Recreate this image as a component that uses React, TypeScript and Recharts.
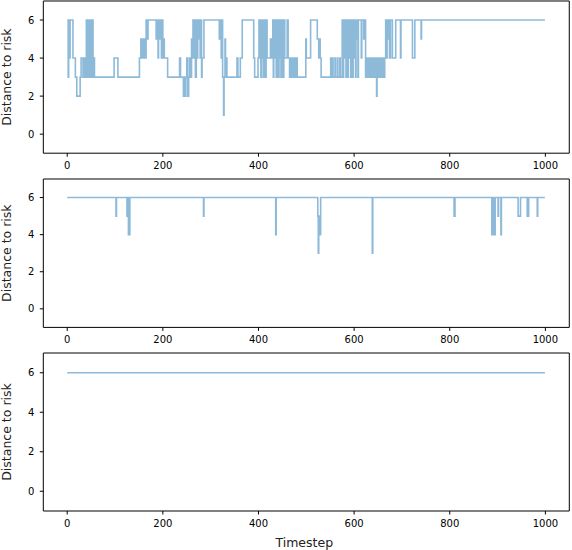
import { LineChart, Line, XAxis, YAxis, ReferenceArea } from 'recharts';

// Timesteps where the value changes, and the value from that step on
const RUN1_STEPS = [
  0, 2, 3, 5, 6, 12, 17, 20, 27, 29, 33, 35, 38,
  40, 41, 42, 43, 44, 45, 46, 47, 48, 49, 50, 51, 52, 53, 54, 55, 57,
  98, 106,
  151, 154, 155, 157, 159, 161, 163, 165, 168, 169, 186, 187, 190, 191, 193, 195, 197, 198, 200, 202, 203, 210,
  235, 237, 243, 245, 246, 248, 250, 252, 254, 256, 258, 260, 261, 263, 265, 267, 268, 270, 271, 273, 274, 276, 278, 279, 281, 282, 286,
  318, 320, 322, 324, 325, 327, 328, 330, 331, 333, 334,
  355, 357, 362, 366,
  390, 392, 399, 401, 403, 405, 406, 408, 410, 411, 413, 414, 416, 418, 425, 427,
  430, 431, 432, 434, 435, 437, 438, 440, 441, 443, 444, 446, 447, 449, 450, 452, 453, 455, 460, 462, 465, 467, 469, 471, 473, 475, 477, 479, 481,
  499, 500, 509, 523, 526, 528, 529, 531,
  551, 552, 555, 556, 560, 561, 565, 566, 570, 571,
  575, 577, 578, 580, 581, 583, 584, 586, 587, 588, 590, 591, 593, 594, 596, 597, 598, 600, 601, 603, 604, 606, 608, 609,
  615, 616, 620, 621, 624, 625, 627, 628, 630, 632, 634, 635, 637, 639, 641, 643, 645, 647, 648, 650, 652, 654, 656, 658, 660, 662, 664,
  666, 668, 669, 671, 672, 674, 676, 680, 687, 697, 698, 722, 727, 740, 741, 999,
];
const RUN1_VALUES = [
  6, 3, 6, 4, 6, 4, 3, 2, 3, 4, 3, 4, 3,
  6, 3, 4, 6, 3, 6, 4, 3, 6, 5, 3, 6, 4, 6, 3, 4, 3,
  4, 3,
  4, 5, 4, 5, 4, 5, 4, 6, 5, 6, 5, 6, 4, 6, 5, 6, 4, 6, 4, 5, 4, 3,
  4, 3, 2, 3, 2, 3, 4, 2, 3, 4, 3, 5, 4, 6, 4, 6, 3, 6, 4, 6, 5, 6, 4, 6, 3, 4, 6,
  5, 6, 4, 6, 3, 1, 3, 5, 3, 4, 3,
  4, 3, 4, 6,
  4, 3, 4, 6, 4, 3, 6, 4, 3, 6, 4, 3, 6, 4, 5, 4,
  6, 3, 6, 4, 6, 3, 6, 5, 3, 6, 4, 6, 3, 6, 4, 3, 6, 4, 6, 4, 3, 4, 3, 4, 3, 4, 3, 4, 3,
  5, 4, 6, 5, 4, 5, 4, 3,
  4, 3, 4, 3, 4, 3, 4, 3, 4, 3,
  6, 3, 6, 4, 6, 3, 6, 5, 3, 6, 4, 6, 3, 6, 4, 3, 6, 4, 6, 3, 6, 5, 3, 6,
  4, 6, 5, 6, 3, 4, 3, 4, 3, 4, 3, 4, 3, 4, 3, 4, 3, 2, 4, 3, 4, 3, 4, 3, 4, 3, 4,
  6, 4, 6, 5, 6, 4, 6, 4, 6, 4, 6, 4, 6, 5, 6, 6,
];

const RUN2_STEPS = [
  0, 102, 103, 125, 126, 128, 129, 130, 131, 285, 286, 436, 437,
  524, 525, 526, 529, 530, 638, 639, 809, 811,
  888, 890, 892, 895, 901, 902, 907, 908, 943, 948, 962, 965, 983, 984, 999,
];
const RUN2_VALUES = [
  6, 5, 6, 5, 6, 4, 5, 4, 6, 5, 6, 4, 6,
  5, 3, 5, 4, 6, 3, 6, 5, 6,
  4, 6, 4, 6, 5, 6, 4, 6, 5, 6, 5, 6, 5, 6, 6,
];

const RUN3_STEPS = [0, 999];
const RUN3_VALUES = [6, 6];

const X_TICKS = [0, 200, 400, 600, 800, 1000];
const Y_TICKS = [0, 2, 4, 6];

const LINE_COLOR = '#8ebad9';
const FONT = '"DejaVu Sans", sans-serif';
const PAD = 2;

const toRows = (steps: number[], values: number[]) =>
  steps.map((t, i) => ({ t, v: values[i] }));

interface PanelProps {
  steps: number[];
  values: number[];
  plotTop: number;
  plotHeight: number;
  axisHeight: number;
  xLabel?: string;
}

function Panel({ steps, values, plotTop, plotHeight, axisHeight, xLabel }: PanelProps) {
  const data = toRows(steps, values);
  return (
    <div style={{ position: 'absolute', left: 0, top: plotTop - PAD }}>
      <LineChart
        width={572}
        height={PAD + plotHeight + axisHeight}
        data={data}
        margin={{ top: PAD, right: 2.7, bottom: 0, left: 0 }}
        style={{ fontFamily: FONT }}
      >
        <XAxis
          dataKey="t"
          type="number"
          domain={[-50, 1050]}
          ticks={X_TICKS}
          interval={0}
          height={axisHeight}
          axisLine={false}
          tickLine={{ stroke: '#000' }}
          tickSize={3.5}
          tickMargin={5}
          tick={{ fontSize: 10, fill: '#000' }}
          label={
            xLabel
              ? {
                  value: xLabel,
                  position: 'insideBottom',
                  offset: 5,
                  dx: -2,
                  style: { fontSize: 12.5, fill: '#222' },
                }
              : undefined
          }
        />
        <YAxis
          type="number"
          domain={[-1, 7]}
          ticks={Y_TICKS}
          interval={0}
          width={43.3}
          axisLine={false}
          tickLine={{ stroke: '#000' }}
          tickSize={3.5}
          tickMargin={5.5}
          tick={{ fontSize: 10, fill: '#000' }}
          label={{
            value: 'Distance to risk',
            angle: -90,
            position: 'insideLeft',
            offset: 7,
            style: { textAnchor: 'middle', fontSize: 12.5, fill: '#222' },
          }}
        />
        <ReferenceArea
          x1={-50}
          x2={1050}
          y1={-1}
          y2={7}
          fill="none"
          stroke="#000"
          strokeWidth={1}
          ifOverflow="visible"
        />
        <Line
          type="stepAfter"
          dataKey="v"
          stroke={LINE_COLOR}
          strokeWidth={1.6}
          dot={false}
          activeDot={false}
          isAnimationActive={false}
        />
      </LineChart>
    </div>
  );
}

export default function App() {
  return (
    <div
      style={{
        position: 'absolute',
        left: 0,
        top: 0,
        width: 572,
        height: 550,
        overflow: 'hidden',
        background: '#fff',
        fontFamily: FONT,
      }}
    >
      <Panel steps={RUN1_STEPS} values={RUN1_VALUES} plotTop={0.5} plotHeight={152.2} axisHeight={24} />
      <Panel steps={RUN2_STEPS} values={RUN2_VALUES} plotTop={179.3} plotHeight={148.4} axisHeight={24} />
      <Panel
        steps={RUN3_STEPS}
        values={RUN3_VALUES}
        plotTop={353.3}
        plotHeight={158}
        axisHeight={41}
        xLabel="Timestep"
      />
    </div>
  );
}
